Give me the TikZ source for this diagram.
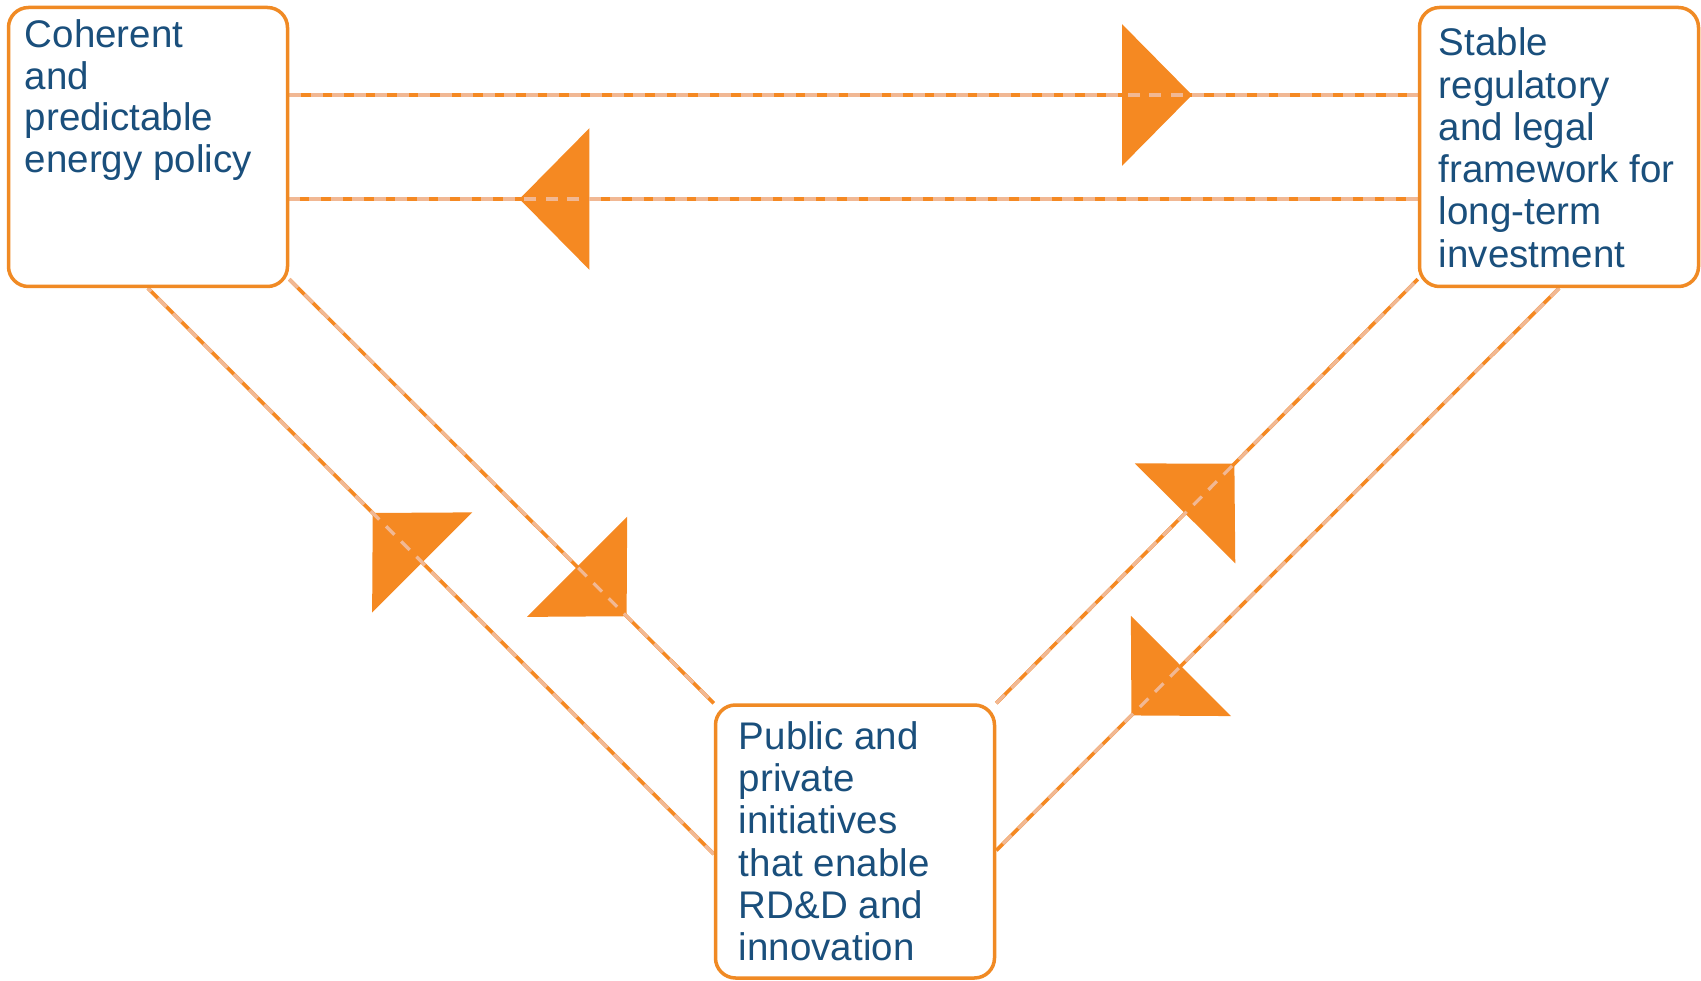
\documentclass[tikz,border=0pt]{standalone}
\usepackage{fontspec}
\setmainfont{Liberation Sans}
\usetikzlibrary{arrows.meta,decorations.markings}

\definecolor{boxorange}{RGB}{240,138,36}
\definecolor{linkorange}{RGB}{245,137,34}
\definecolor{linkpeach}{RGB}{241,184,148}
\definecolor{txtblue}{RGB}{26,79,124}

\pgfdeclarelayer{bg}
\pgfsetlayers{bg,main}

\tikzset{
    box/.style={draw=boxorange, line width=3.5pt, rounded corners=20pt, fill=white,
                inner sep=0pt, minimum width=279pt},
    txt/.style={font=\fontsize{38.5}{#1}\selectfont, text=txtblue, align=left, inner sep=0pt},
    txt/.default=42.3,
    link/.style={draw=linkorange, line width=3.6pt},
    linkdash/.style={draw=linkpeach, line width=3.2pt, dash pattern=on 12pt off 9.5pt},
    midtip/.style={postaction={decorate}, decoration={markings,
                   mark=at position #1 with {\arrow{Triangle[length=70pt, width=141pt]}}}}
}

\begin{document}
\begin{tikzpicture}[x=1pt, y=-1pt]
    \useasboundingbox (0,0) rectangle (1701,981);

    \def \s {52};

    % the three boxes
    \node[box, minimum height=279pt] (pol) at (148,147) {};
    \node[box, minimum height=279pt] (reg) at (1559,147) {};
    \node[box, minimum height=273pt] (rdd) at (855,841.5) {};

    % texts, placed by the baseline of their last line
    \node[txt=41.5, anchor=base west] (polT) at ([xshift=18pt, yshift=-42pt-3*41.5pt]pol.north west)
        {Coherent\\and\\predictable\\energy policy};
    \node[txt, anchor=base west] (regT) at ([xshift=21pt, yshift=-50pt-5*42.3pt]reg.north west)
        {Stable\\regulatory\\and legal\\framework for\\long-term\\investment};
    \node[txt, anchor=base west] (rddT) at ([xshift=25pt, yshift=-46pt-5*42.3pt]rdd.north west)
        {Public and\\private\\initiatives\\that enable\\RD\&D and\\innovation};

    % end points on the box sides
    \coordinate (polA) at ([yshift=\s pt]pol.east);
    \coordinate (polB) at ([yshift=-\s pt]pol.east);
    \coordinate (polC) at ([yshift=9pt]pol.south east);
    \coordinate (regA) at ([yshift=\s pt]reg.west);
    \coordinate (regB) at ([yshift=-\s pt]reg.west);
    \coordinate (regC) at ([yshift=9pt]reg.south west);
    \coordinate (rddW) at ([yshift=-12.5pt]rdd.west);
    \coordinate (rddE) at ([yshift=-9pt]rdd.east);

    \begin{pgfonlayer}{bg}
        \foreach \a/\b/\p in {polA/regA/0.8, regB/polB/0.796, rddW/pol.south/0.603,
                              polC/rdd.north west/0.795,
                              rdd.north east/regC/0.565, reg.south/rddE/0.76}
        {
            \draw[link, midtip=\p] (\a) -- (\b);
            \draw[linkdash] (\a) -- (\b);
        }
    \end{pgfonlayer}
\end{tikzpicture}
\end{document}
